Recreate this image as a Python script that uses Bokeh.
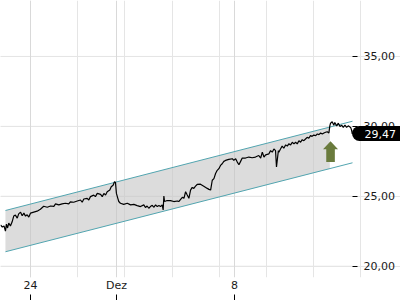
from bokeh.plotting import figure
from bokeh.models import Range1d, FixedTicker, LinearAxis, Grid
from bokeh.embed import file_html
from bokeh.resources import INLINE

# ---- data (trading days since 24 Nov session start, price in EUR) ----
t = [-1.27, -1.19, -1.12, -1.06, -1.02, -0.97, -0.92, -0.85, -0.78, -0.71,
     -0.64, -0.56, -0.50, -0.42, -0.35, -0.28, -0.21, -0.14, -0.07, 0.00,
     0.14, 0.28, 0.42, 0.56, 0.71, 0.85, 0.99, 1.06, 1.20, 1.34,
     1.48, 1.62, 1.69, 1.83, 1.98, 2.12, 2.19, 2.26, 2.40, 2.47,
     2.54, 2.68, 2.75, 2.83, 2.97, 3.04, 3.11, 3.18, 3.25, 3.36,
     3.42, 3.50, 3.56, 3.60, 3.64, 3.70, 3.74, 3.81, 3.95, 4.10,
     4.24, 4.38, 4.52, 4.66, 4.80, 4.87, 4.94, 5.01, 5.08, 5.16,
     5.22, 5.30, 5.37, 5.44, 5.51, 5.58, 5.62, 5.65, 5.68, 5.79,
     5.93, 6.07, 6.22, 6.28, 6.36, 6.43, 6.50, 6.57, 6.64, 6.71,
     6.78, 6.85, 6.92, 6.99, 7.06, 7.20, 7.34, 7.49, 7.56, 7.63,
     7.70, 7.77, 7.84, 7.91, 7.98, 8.05, 8.12, 8.19, 8.26, 8.40,
     8.55, 8.61, 8.69, 8.76, 8.83, 8.90, 8.97, 9.11, 9.25, 9.39,
     9.53, 9.67, 9.75, 9.82, 9.89, 9.96, 10.10, 10.17, 10.24, 10.31,
     10.38, 10.42, 10.50, 10.52, 10.59, 10.66, 10.73, 10.81, 10.88, 10.94,
     11.02, 11.09, 11.16, 11.23, 11.30, 11.37, 11.44, 11.51, 11.58, 11.65,
     11.72, 11.79, 11.86, 11.93, 12.00, 12.08, 12.15, 12.22, 12.29, 12.36,
     12.43, 12.50, 12.57, 12.64, 12.68, 12.71, 12.78, 12.85, 12.89, 12.97,
     13.04, 13.11, 13.18, 13.25, 13.32, 13.39, 13.46, 13.56, 13.60, 13.63]
price = [22.95, 22.81, 22.88, 22.52, 23.02, 22.74, 23.09, 22.88, 23.16, 23.59,
         23.66, 23.44, 23.75, 23.87, 23.61, 23.80, 23.59, 23.68, 23.52, 23.80,
         23.87, 23.94, 24.08, 24.29, 24.22, 24.31, 24.29, 24.46, 24.39, 24.46,
         24.51, 24.46, 24.61, 24.58, 24.67, 24.74, 24.58, 24.81, 24.86, 24.74,
         24.98, 25.09, 24.98, 25.21, 25.14, 24.98, 25.21, 25.09, 25.33, 25.45,
         25.69, 25.80, 26.04, 25.99, 25.21, 24.86, 24.63, 24.51, 24.43, 24.51,
         24.39, 24.43, 24.34, 24.27, 24.39, 24.20, 24.31, 24.15, 24.27, 24.36,
         24.22, 24.39, 24.27, 24.34, 24.27, 24.39, 24.03, 25.02, 24.63, 24.70,
         24.70, 24.63, 24.67, 24.63, 24.79, 24.93, 24.86, 25.33, 25.09, 24.86,
         25.45, 25.64, 25.57, 25.73, 25.85, 25.87, 25.73, 25.57, 25.50, 25.45,
         26.15, 26.27, 26.63, 26.86, 26.98, 27.21, 27.33, 27.50, 27.57, 27.64,
         27.69, 27.57, 27.69, 27.45, 27.26, 27.50, 27.74, 27.74, 27.81, 27.76,
         27.81, 27.92, 27.74, 28.16, 27.81, 27.97, 28.04, 28.27, 28.16, 28.39,
         28.27, 27.10, 28.27, 28.16, 28.39, 28.59, 28.44, 28.68, 28.59, 28.75,
         28.68, 28.87, 28.75, 28.87, 28.75, 28.98, 28.87, 29.05, 28.98, 29.10,
         29.22, 29.15, 29.34, 29.29, 29.38, 29.34, 29.46, 29.41, 29.53, 29.46,
         29.53, 29.58, 29.62, 29.53, 30.04, 30.23, 30.33, 30.09, 30.28, 30.04,
         30.23, 30.00, 30.09, 29.93, 30.09, 29.93, 30.04, 29.93, 29.74, 29.47]

x_tick_pos = [0.0, 3.64, 8.64]
x_tick_labels = ["24", "Dez", "8"]
y_ticks = [20, 25, 30, 35]
y_tick_labels = ["20,00", "25,00", "30,00", "35,00"]

channel_t = [-1.06, 13.64]
channel_upper = [23.99, 30.37]
channel_lower = [21.04, 27.40]
band_t = [-1.06, 12.68]
band_upper = [23.99, 29.95]
band_lower = [21.04, 26.98]

signal_t = 12.71
signal_price = 28.94
last_price = 29.47
last_label = "29,47"

# ---- layout ----
X0, X_EDGE = -1.27, 13.64          # visible data span (352 px)
Y0, Y1 = 19.2, 39.0
DATA_W, FRAME_W, FRAME_H = 352, 400, 280
ppd = DATA_W / (X_EDGE - X0)
ppu = FRAME_H / (Y1 - Y0)
X1 = X0 + FRAME_W / ppd            # frame also holds the price-axis strip
FONT = "DejaVu Sans"
GRID = "#d9d9d9"
TEAL = "#52a5b0"

p = figure(width=400, height=300, x_range=Range1d(X0, X1), y_range=Range1d(Y0, Y1),
           output_backend="svg", toolbar_location=None,
           x_axis_location=None, y_axis_location=None,
           min_border_left=0, min_border_top=0, min_border_right=0,
           min_border_bottom=20, outline_line_color=None,
           background_fill_color="white", border_fill_color="white")

xticker = FixedTicker(ticks=x_tick_pos)
yticker = FixedTicker(ticks=y_ticks)

xaxis = LinearAxis(ticker=xticker,
                   major_label_overrides=dict(zip(x_tick_pos, x_tick_labels)),
                   major_tick_in=0, major_tick_out=0, minor_tick_in=0, minor_tick_out=0,
                   axis_line_color=None, major_label_standoff=1,
                   major_label_text_font=FONT, major_label_text_font_size="11px",
                   major_label_text_color="#1a1a1a")
p.add_layout(xaxis, "below")
xticks_axis = LinearAxis(ticker=xticker,
                         major_label_overrides={v: "" for v in x_tick_pos},
                         major_label_text_font_size="0px", major_label_standoff=0,
                         major_tick_in=0, major_tick_out=6, minor_tick_in=0, minor_tick_out=0,
                         major_tick_line_color="black", axis_line_color=None)
p.add_layout(xticks_axis, "below")

p.add_layout(Grid(dimension=0, ticker=xticker, grid_line_color=GRID))
# horizontal grid lines stop at the price-axis strip
p.segment(x0=X0, x1=X_EDGE, y0=y_ticks, y1=y_ticks, line_color=GRID,
          line_width=1, level="underlay")

yaxis = LinearAxis(ticker=yticker, fixed_location=X_EDGE,
                   major_label_overrides=dict(zip(y_ticks, y_tick_labels)),
                   major_tick_in=0, major_tick_out=5, minor_tick_in=0, minor_tick_out=0,
                   major_tick_line_color="black", axis_line_color=None,
                   major_label_standoff=6, major_label_text_font=FONT,
                   major_label_text_font_size="11px", major_label_text_color="#1a1a1a")
p.add_layout(yaxis, "right")

# last-price tag: a fixed-location axis whose single thick tick forms the tag
tag_axis = LinearAxis(ticker=FixedTicker(ticks=[last_price]), fixed_location=X_EDGE,
                      major_label_overrides={last_price: last_label},
                      major_tick_in=-7, major_tick_out=60, minor_tick_in=0, minor_tick_out=0,
                      major_tick_line_color="black", major_tick_line_width=15,
                      major_tick_line_cap="round", axis_line_color=None,
                      major_label_standoff=-48, major_label_text_font=FONT,
                      major_label_text_font_size="11px", major_label_text_color="white")
p.add_layout(tag_axis, "right")

# channel band + lines
p.varea(x=band_t, y1=band_lower, y2=band_upper, fill_color="#c4c4c4", fill_alpha=0.6)
p.line(channel_t, channel_upper, line_color=TEAL, line_width=1)
p.line(channel_t, channel_lower, line_color=TEAL, line_width=1)

# price line
p.line(t, price, line_color="black", line_width=1.2)

# signal arrow (sizes in pixels converted to data units)
hh, sh = 7.5 / ppd, 4.3 / ppd
head_h, shaft_len = 8.0 / ppu, 13.0 / ppu
ax = [signal_t, signal_t + hh, signal_t + sh, signal_t + sh,
      signal_t - sh, signal_t - sh, signal_t - hh]
ay = [signal_price, signal_price - head_h, signal_price - head_h,
      signal_price - head_h - shaft_len, signal_price - head_h - shaft_len,
      signal_price - head_h, signal_price - head_h]
p.patch(ax, ay, fill_color="#6a7b3d", line_color=None)

open("out.html", "w").write(file_html(p, INLINE))
